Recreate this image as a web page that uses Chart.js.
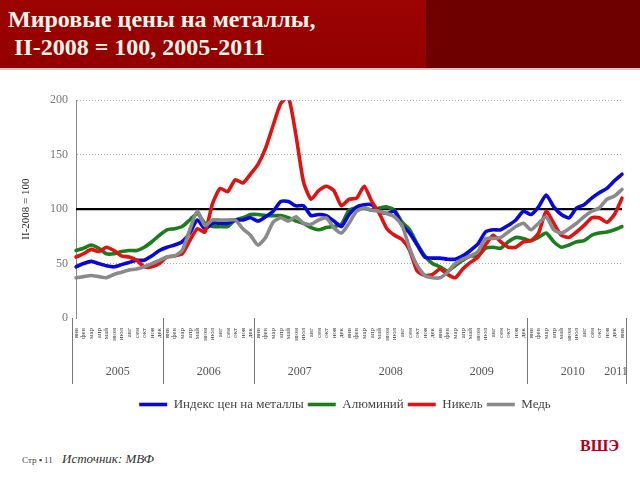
<!DOCTYPE html>
<html lang="ru">
<head>
<meta charset="utf-8">
<script src="https://cdn.jsdelivr.net/npm/chart.js@4.4.1/dist/chart.umd.min.js"></script>
<style>
	html, body { margin: 0; padding: 0; background: #fff; }
	body { width: 640px; height: 480px; position: relative; overflow: hidden; font-family: "Liberation Serif", serif; }
	#header { position: absolute; left: 0; top: 0; width: 640px; height: 68px; background: #6f0000; }
	#header .red { position: absolute; left: 0; top: 0; width: 426px; height: 68px; background: linear-gradient(#9c0303, #930000); }
	#header .line { position: absolute; left: 0; top: 68px; width: 640px; height: 2px; background: #d8c8c8; }
	#title { position: absolute; left: 8px; top: 5px; color: #fbf5ea; font: bold 24px "Liberation Serif", serif; line-height: 28px; }
	#wrap { position: absolute; left: 0; top: 85px; width: 640px; height: 340px; }
	#page { position: absolute; left: 22px; top: 455px; font-size: 9px; color: #444; }
	#source { position: absolute; left: 62px; top: 451px; font-size: 13px; font-style: italic; color: #333; }
	#hse { position: absolute; left: 580px; top: 437px; font-size: 16px; font-weight: bold; color: #b0001e; }
</style>
</head>
<body>
<div id="header"><div class="red"></div><div class="line"></div>
	<div id="title">Мировые цены на металлы,<br>&nbsp;II-2008 = 100, 2005-2011</div>
</div>
<div id="wrap"><canvas id="metalsChart" width="640" height="340"></canvas></div>
<div id="page">Стр ▪ 11</div>
<div id="source">Источник: МВФ</div>
<div id="hse">ВШЭ</div>

<script>
const monthNames = ["янв", "фев", "мар", "апр", "май", "июн", "июл", "авг", "сен", "окт", "ноя", "дек"];
const years = ["2005", "2006", "2007", "2008", "2009", "2010", "2011"];
const seriesNames = ["Индекс цен на металлы", "Алюминий", "Никель", "Медь"];
const yTicks = [0, 50, 100, 150, 200];

// monthly values, Jan 2005 .. Jan 2011
const metalsIndex = [47, 50, 52, 50, 48, 47, 49, 51, 53, 53, 57, 62,
	65, 67, 70, 78, 90, 82, 87, 87, 87, 90, 90, 92,
	89, 93, 98, 107, 107, 103, 103, 94, 95, 94, 89, 84,
	95, 102, 104, 104, 98, 96, 98, 85, 78, 67, 56, 55,
	55, 54, 54, 57, 62, 68, 79, 81, 81, 85, 90, 98,
	95, 102, 113, 102, 95, 92, 101, 104, 110, 115, 119, 126,
	132];
const aluminium = [62, 64, 67, 64, 59, 59, 61, 62, 62, 65, 70, 76,
	81, 82, 84, 90, 96, 87, 84, 84, 84, 90, 92, 95,
	95, 94, 94, 94, 92, 89, 87, 83, 81, 83, 84, 86,
	99, 101, 101, 99, 101, 102, 99, 88, 81, 68, 57, 50,
	47, 43, 48, 53, 57, 57, 64, 65, 64, 70, 74, 73,
	71, 74, 78, 70, 65, 67, 70, 71, 76, 78, 79, 81,
	84];
const nickel = [56, 59, 63, 61, 65, 62, 57, 56, 53, 47, 47, 50,
	56, 57, 59, 71, 82, 79, 105, 119, 116, 127, 124, 132,
	141, 156, 177, 197, 203, 168, 125, 109, 117, 121, 117, 103,
	109, 110, 121, 107, 96, 82, 76, 72, 62, 43, 39, 40,
	45, 40, 37, 45, 51, 56, 67, 76, 70, 65, 65, 70,
	71, 78, 98, 87, 76, 74, 79, 85, 92, 92, 88, 95,
	110];
const copper = [37, 38, 39, 38, 37, 40, 42, 44, 45, 47, 50, 53,
	56, 57, 62, 81, 98, 85, 90, 90, 90, 90, 82, 76,
	67, 74, 88, 92, 89, 93, 87, 86, 90, 92, 83, 78,
	87, 98, 101, 99, 98, 96, 93, 85, 64, 48, 39, 37,
	37, 42, 50, 54, 57, 61, 73, 73, 74, 79, 84, 87,
	81, 87, 93, 81, 78, 82, 87, 93, 98, 101, 109, 112,
	118];

const baseLevel = 100;
// category indexes where a year separator line is drawn below the axis
const separatorAt = [0, 12, 24, 60, 73];

const labels = [];
years.forEach(function (y) {
	monthNames.forEach(function (m) {
		if (labels.length < metalsIndex.length) labels.push(m);
	});
});

const serif = "'Liberation Serif', 'Times New Roman', serif";

// black base line at 100 plus year labels under the month ticks
const extrasPlugin = {
	id: "extras",
	afterLayout(chart) {
		// legend sits a bit right of centre in the original
		chart.legend.left += 24;
		chart.legend.right += 24;
	},
	beforeDatasetsDraw(chart) {
		const { ctx, chartArea, scales } = chart;
		const y = scales.y.getPixelForValue(baseLevel);
		ctx.save();
		ctx.strokeStyle = "#000";
		ctx.lineWidth = 2.2;
		ctx.beginPath();
		ctx.moveTo(chartArea.left, y);
		ctx.lineTo(chartArea.right, y);
		ctx.stroke();
		ctx.restore();
	},
	afterDraw(chart) {
		const { ctx, chartArea, scales } = chart;
		const x = scales.x;
		const step = x.getPixelForValue(1) - x.getPixelForValue(0);
		const edge = (i) => x.getPixelForValue(0) + (i - 0.5) * step;
		ctx.save();
		ctx.strokeStyle = "#777";
		ctx.lineWidth = 1;
		separatorAt.forEach(function (i) {
			const px = Math.round(edge(i)) + 0.5;
			ctx.beginPath();
			ctx.moveTo(px, chartArea.bottom);
			ctx.lineTo(px, chartArea.bottom + 66);
			ctx.stroke();
		});
		ctx.fillStyle = "#555";
		ctx.font = "12px " + serif;
		ctx.textAlign = "center";
		ctx.textBaseline = "middle";
		years.forEach(function (yr, k) {
			const first = k * 12;
			const last = Math.min(first + 11, labels.length - 1);
			let cx = (edge(first) + edge(last + 1)) / 2;
			if (last === first) cx -= 6;
			ctx.fillText(yr, cx, chartArea.bottom + 54);
		});
		ctx.restore();
	}
};

const colors = ["#0808d8", "#1c7d1c", "#e01212", "#8a8a8a"];
const seriesData = [metalsIndex, aluminium, nickel, copper];
const drawOrder = [3, 4, 2, 1];

const datasets = seriesNames.map(function (name, k) {
	return {
		label: name,
		data: seriesData[k],
		borderColor: colors[k],
		backgroundColor: colors[k],
		borderWidth: 3.6,
		borderCapStyle: "round",
		borderJoinStyle: "round",
		pointRadius: 0,
		tension: 0.2,
		order: drawOrder[k],
	};
});

new Chart(document.getElementById("metalsChart"), {
	type: "line",
	data: { labels: labels, datasets: datasets },
	plugins: [extrasPlugin],
	options: {
		responsive: false,
		animation: false,
		layout: { padding: { left: 20, right: 18, top: 15, bottom: 4 } },
		plugins: {
			tooltip: { enabled: false },
			legend: {
				position: "bottom",
				labels: {
					usePointStyle: true,
					pointStyle: "line",
					pointStyleWidth: 28,
					color: "#444",
					font: { family: serif, size: 13 },
					padding: 4,
					sort: (a, b) => a.datasetIndex - b.datasetIndex,
				},
			},
		},
		scales: {
			x: {
				type: "category",
				grid: { display: false },
				border: { display: false },
				ticks: {
					autoSkip: false,
					minRotation: 90,
					maxRotation: 90,
					padding: 2,
					color: "#444",
					font: { family: serif, size: 7 },
				},
				afterFit(scale) { scale.height = 76; },
			},
			y: {
				min: 0,
				max: 200,
				afterBuildTicks(scale) { scale.ticks = yTicks.map((v) => ({ value: v })); },
				grid: {
					drawTicks: false,
					color: (c) => (c.tick && [50, 150, 200].includes(c.tick.value) ? "#a8a8a8" : "rgba(0,0,0,0)"),
					lineWidth: 1,
				},
				border: { display: true, color: "#888", width: 1, dash: [1, 2] },
				ticks: {
					padding: 8,
					color: "#777",
					font: { family: serif, size: 12 },
				},
				title: {
					display: true,
					text: "II-2008 = 100",
					color: "#222",
					font: { family: serif, size: 11 },
					padding: { top: 0, bottom: 0 },
				},
				afterFit(scale) { scale.width = 56; },
			},
		},
	},
});
</script>
</body>
</html>
